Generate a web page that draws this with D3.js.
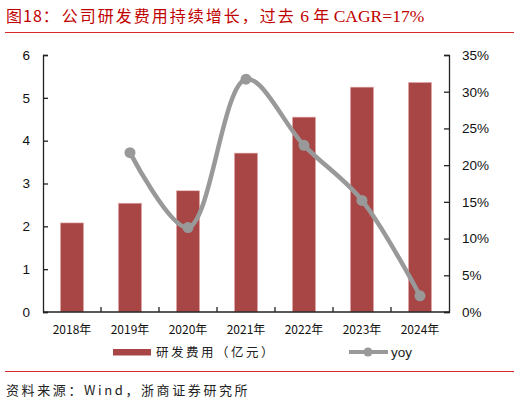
<!DOCTYPE html>
<html>
<head>
<meta charset="utf-8">
<script src="https://cdn.jsdelivr.net/npm/d3@7/dist/d3.min.js"></script>
<style>
  body { margin: 0; background: #fff; }
  svg { display: block; }
</style>
</head>
<body>
<div id="chart"></div>
<script>
// 数据
const years = ['2018年', '2019年', '2020年', '2021年', '2022年', '2023年', '2024年'];
const rdCost = [2.08, 2.54, 2.83, 3.71, 4.55, 5.25, 5.36];
const yoy = [null, 21.7, 11.5, 31.7, 22.7, 15.2, 2.2];
const leftTicks = [0, 1, 2, 3, 4, 5, 6];
const rightTicks = [0, 5, 10, 15, 20, 25, 30, 35];

const width = 520, height = 403;
const margin = { left: 43, right: 71, top: 55, bottom: 91 };
const cjk = '"Noto Sans CJK SC", sans-serif';
const sans = '"Liberation Sans", Arial, sans-serif';

const svg = d3.select('#chart').append('svg')
    .attr('width', width)
    .attr('height', height);

// 标题
const title = svg.append('text')
    .attr('x', 6)
    .attr('y', 22)
    .attr('fill', '#c00000')
    .style('font-size', '16px');
title.append('tspan').style('font-family', cjk).style('letter-spacing', '1px').text('图18：');
title.append('tspan').style('font-family', cjk).attr('dx', 2).style('letter-spacing', '2px').text('公司研发费用持续增长，过去');
title.append('tspan').style('font-family', '"Liberation Serif", serif').style('font-size', '17.5px').text(' 6 ');
title.append('tspan').style('font-family', cjk).text('年');
title.append('tspan').style('font-family', '"Liberation Serif", serif').style('font-size', '17.5px').text(' CAGR=17%');

svg.append('line')
    .attr('x1', 5).attr('x2', 514)
    .attr('y1', 32.5).attr('y2', 32.5)
    .attr('stroke', '#d42a2a').attr('stroke-width', 1);

svg.append('line')
    .attr('x1', 5).attr('x2', 514)
    .attr('y1', 371.5).attr('y2', 371.5)
    .attr('stroke', '#d42a2a').attr('stroke-width', 1);

// 比例尺
const x = d3.scaleBand()
    .domain(years)
    .range([margin.left, width - margin.right])
    .paddingInner(0)
    .paddingOuter(0);

const yL = d3.scaleLinear().domain([0, 6]).range([height - margin.bottom, margin.top]);
const yR = d3.scaleLinear().domain([0, 35]).range([height - margin.bottom, margin.top]);

// 柱子
const barW = x.bandwidth() * 0.4;
svg.append('g').selectAll('rect')
    .data(rdCost)
    .enter()
    .append('rect')
    .attr('x', (d, i) => x(years[i]) + x.bandwidth() / 2 - barW / 2)
    .attr('y', d => yL(d))
    .attr('width', barW)
    .attr('height', d => yL(0) - yL(d))
    .attr('fill', '#a84646')
    .attr('stroke', '#e8b4b4')
    .attr('stroke-width', 0.6);

// 坐标轴
const axisStyle = g => {
    g.selectAll('path').attr('stroke', '#222').attr('stroke-width', 1.3);
    g.selectAll('line').attr('stroke', '#222').attr('stroke-width', 1.3);
    g.selectAll('text').style('font-family', sans).style('font-size', '13.5px').attr('fill', '#111');
};

svg.append('g')
    .attr('transform', `translate(${margin.left},0)`)
    .call(d3.axisLeft(yL).tickValues(leftTicks).tickFormat(d3.format('d')).tickSizeInner(-5).tickSizeOuter(-5).tickPadding(13))
    .call(axisStyle);

svg.append('g')
    .attr('transform', `translate(${width - margin.right},0)`)
    .call(d3.axisRight(yR).tickValues(rightTicks).tickFormat(d => d + '%').tickSizeInner(-5).tickSizeOuter(-5).tickPadding(13))
    .call(axisStyle);

// X轴：刻度在类目边界
const xAxis = svg.append('g')
    .attr('transform', `translate(0,${yL(0)})`);
xAxis.append('line')
    .attr('x1', margin.left).attr('x2', width - margin.right)
    .attr('y1', 0).attr('y2', 0)
    .attr('stroke', '#222').attr('stroke-width', 1.5);
xAxis.selectAll('.tk')
    .data(years.slice(1))
    .enter()
    .append('line')
    .attr('x1', d => x(d)).attr('x2', d => x(d))
    .attr('y1', 0).attr('y2', -5)
    .attr('stroke', '#222').attr('stroke-width', 1.3);
xAxis.selectAll('text')
    .data(years)
    .enter()
    .append('text')
    .attr('x', d => x(d) + x.bandwidth() / 2)
    .attr('y', 22)
    .attr('text-anchor', 'middle')
    .style('font-family', cjk)
    .style('font-size', '12px')
    .attr('fill', '#111')
    .text(d => d);

// 增速折线
const pts = yoy.map((v, i) => ({ v, i })).filter(d => d.v !== null);
const line = d3.line()
    .x(d => x(years[d.i]) + x.bandwidth() / 2)
    .y(d => yR(d.v))
    .curve(d3.curveCatmullRom.alpha(0.5));

svg.append('path')
    .datum(pts)
    .attr('d', line)
    .attr('fill', 'none')
    .attr('stroke', '#999')
    .attr('stroke-width', 4.5);

svg.append('g').selectAll('circle')
    .data(pts)
    .enter()
    .append('circle')
    .attr('cx', d => x(years[d.i]) + x.bandwidth() / 2)
    .attr('cy', d => yR(d.v))
    .attr('r', 5.5)
    .attr('fill', '#999');

// 图例
const lg = svg.append('g');
lg.append('rect')
    .attr('x', 113).attr('y', 349)
    .attr('width', 38).attr('height', 6.5)
    .attr('fill', '#a84646');
lg.append('text')
    .attr('x', 156).attr('y', 357)
    .style('font-family', cjk)
    .style('font-size', '12.5px')
    .style('letter-spacing', '2.5px')
    .attr('fill', '#222')
    .text('研发费用（亿元）');
lg.append('line')
    .attr('x1', 349).attr('x2', 388)
    .attr('y1', 352).attr('y2', 352)
    .attr('stroke', '#999').attr('stroke-width', 4);
lg.append('circle')
    .attr('cx', 368).attr('cy', 352).attr('r', 4.5)
    .attr('fill', '#999');
lg.append('text')
    .attr('x', 391).attr('y', 357)
    .style('font-family', sans)
    .style('font-size', '13.5px')
    .attr('fill', '#222')
    .text('yoy');

// 资料来源
svg.append('text')
    .attr('x', 6).attr('y', 395)
    .style('font-family', '"Noto Sans CJK SC", "DejaVu Sans Mono", monospace')
    .style('font-size', '13px')
    .style('letter-spacing', '2.6px')
    .attr('fill', '#222')
    .text('资料来源：Wind，浙商证券研究所');
</script>
</body>
</html>
